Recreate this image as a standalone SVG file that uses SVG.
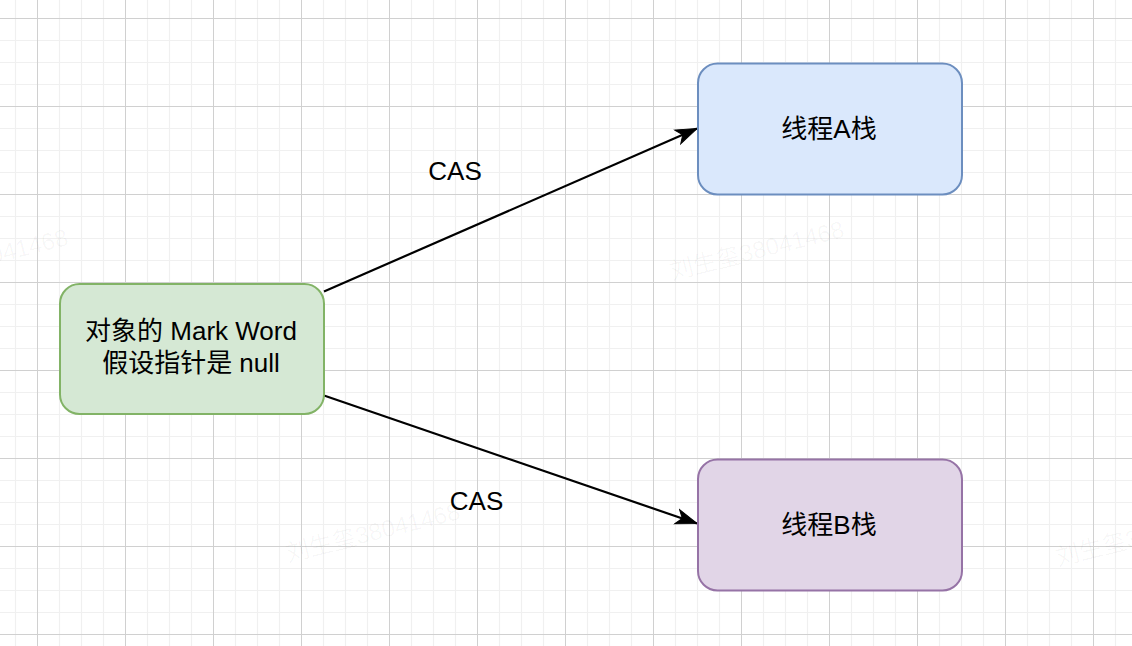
<svg xmlns="http://www.w3.org/2000/svg" width="1132" height="646" viewBox="0 0 1132 646">
  <defs>
    <pattern id="grid" patternUnits="userSpaceOnUse" x="37" y="18" width="88" height="88">
      <path d="M22.5 0V88M44.5 0V88M66.5 0V88M0 22.5H88M0 44.5H88M0 66.5H88" stroke="#f0f0f0" stroke-width="1.2" fill="none"/>
      <path d="M0.5 0V88M0 0.5H88" stroke="#d0d0d0" stroke-width="1" fill="none"/>
    </pattern>
    <marker id="arrow" markerUnits="userSpaceOnUse" viewBox="-22 -9 24 18" refX="0" refY="0" markerWidth="24" markerHeight="18" orient="auto">
      <path d="M0 0L-21 -7.5L-15.5 0L-21 7.5Z" fill="#000" stroke="#000" stroke-width="1"/>
    </marker>
    <style>
      .node rect { stroke-width: 2; }
      .label { font-family: "Liberation Sans", "Noto Sans CJK SC", sans-serif; font-size: 26px; fill: #000; text-anchor: middle; }
      .edge { stroke: #000; stroke-width: 2.2; fill: none; marker-end: url(#arrow); }
      .wm { font-family: "Liberation Sans", "Noto Sans CJK SC", sans-serif; font-size: 24px; fill: #000; fill-opacity: 0.035; }
    </style>
  </defs>
  <rect width="1132" height="646" fill="#ffffff"/>
  <rect width="1132" height="646" fill="url(#grid)"/>

  <g id="watermarks">
    <text class="wm" transform="translate(672 280) rotate(-14)">刘生玺38041468</text>
    <text class="wm" transform="translate(288 562) rotate(-14)">刘生玺38041468</text>
    <text class="wm" transform="translate(-104 288) rotate(-14)">刘生玺38041468</text>
    <text class="wm" transform="translate(1058 566) rotate(-14)">刘生玺38041468</text>
  </g>

  <g id="connectors">
    <path class="edge" d="M324 291.5L697 128.5"/>
    <path class="edge" d="M324 395.5L697 523.5"/>
    <text class="label" x="455" y="180">CAS</text>
    <text class="label" x="476.5" y="510">CAS</text>
  </g>

  <g id="node-markword" class="node">
    <rect x="60" y="284" width="264" height="130" rx="19.5" ry="19.5" fill="#d5e8d4" stroke="#82b366"/>
    <text class="label" x="191" y="340">对象的 Mark Word</text>
    <text class="label" x="191" y="372">假设指针是 null</text>
  </g>

  <g id="node-threadA" class="node">
    <rect x="698" y="63.5" width="264" height="131" rx="19.5" ry="19.5" fill="#dae8fc" stroke="#6c8ebf"/>
    <text class="label" x="829" y="138">线程A栈</text>
  </g>

  <g id="node-threadB" class="node">
    <rect x="698" y="459.5" width="264" height="131" rx="19.5" ry="19.5" fill="#e1d5e7" stroke="#9673a6"/>
    <text class="label" x="829" y="534">线程B栈</text>
  </g>
</svg>
